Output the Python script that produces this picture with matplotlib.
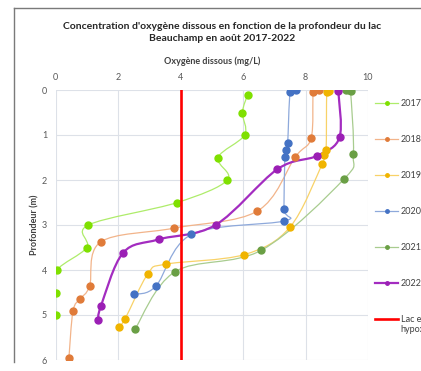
import numpy as np
import matplotlib
matplotlib.use("Agg")
from matplotlib import pyplot as plt
from matplotlib.path import Path
from matplotlib.patches import PathPatch
from matplotlib.lines import Line2D

plt.rcParams['font.family'] = ['Lato', 'DejaVu Sans']

# dissolved oxygen (mg/L) vs depth (m)
years = ["2017", "2018", "2019", "2020", "2021", "2022"]
depth_2017 = [0.1, 0.5, 1.0, 1.5, 2.0, 2.5, 3.0, 3.5, 4.0, 4.5, 5.0]
oxy_2017 = [6.15, 5.98, 6.05, 5.2, 5.5, 3.9, 1.05, 1.0, 0.05, 0.0, 0.0]
depth_2018 = [0.0, 0.05, 1.07, 1.49, 2.69, 3.07, 3.38, 4.36, 4.64, 4.91, 5.95]
oxy_2018 = [8.43, 8.25, 8.18, 7.67, 6.46, 3.79, 1.44, 1.09, 0.79, 0.56, 0.43]
depth_2019 = [0.02, 0.05, 1.33, 1.44, 1.65, 3.05, 3.66, 3.87, 4.08, 5.08, 5.27]
oxy_2019 = [8.74, 8.68, 8.66, 8.59, 8.53, 7.5, 6.03, 3.53, 2.96, 2.23, 2.02]
depth_2020 = [0.0, 0.04, 1.18, 1.33, 1.49, 2.64, 2.91, 3.21, 4.36, 4.54]
oxy_2020 = [7.69, 7.51, 7.43, 7.39, 7.34, 7.31, 7.32, 4.35, 3.21, 2.52]
depth_2021 = [0.0, 0.01, 0.02, 1.42, 1.98, 3.56, 4.04, 5.32]
oxy_2021 = [9.3, 9.38, 9.44, 9.53, 9.23, 6.59, 3.82, 2.54]
depth_2022 = [0.02, 1.05, 1.46, 1.76, 3.0, 3.32, 3.62, 4.81, 5.11]
oxy_2022 = [9.05, 9.09, 8.38, 7.1, 5.12, 3.3, 2.16, 1.45, 1.37]
hypoxia_limit = 4.0

series = [
    (oxy_2017, depth_2017, '#7FE000', '#AEEC6A', 0.9),
    (oxy_2018, depth_2018, '#E07B39', '#F2B48A', 0.9),
    (oxy_2019, depth_2019, '#F0B400', '#F8D268', 0.9),
    (oxy_2020, depth_2020, '#4472C4', '#8EA9DB', 0.9),
    (oxy_2021, depth_2021, '#6A9F45', '#A8CC8F', 0.9),
    (oxy_2022, depth_2022, '#9B1FB5', '#A32CC0', 1.6),
]


def smooth_path(x, y):
    # Excel-like smoothed line: Catmull-Rom segments as cubic beziers
    p = np.column_stack([x, y]).astype(float)
    n = len(p)
    verts = [p[0]]
    codes = [Path.MOVETO]
    for i in range(n - 1):
        p0 = p[i - 1] if i > 0 else p[i]
        p3 = p[i + 2] if i + 2 < n else p[i + 1]
        c1 = p[i] + (p[i + 1] - p0) / 6.0
        c2 = p[i + 1] - (p3 - p[i]) / 6.0
        verts += [c1, c2, p[i + 1]]
        codes += [Path.CURVE4] * 3
    return Path(verts, codes)


fig = plt.figure(figsize=(4.21, 3.71), dpi=100)
W, H = 421.0, 371.0
ax = fig.add_axes([55.5 / W, 1 - 360 / H, (368 - 55.5) / W, (360 - 90) / H])

for x, y, mc, lc, lw in series:
    ax.add_patch(PathPatch(smooth_path(x, y), facecolor='none', edgecolor=lc, lw=lw, zorder=3))
    ax.plot(x, y, ls='none', marker='o', ms=5, color=mc, zorder=4)

ax.plot([hypoxia_limit, hypoxia_limit], [0, 6], color='#FF0000', lw=1.9, zorder=5)

ax.set_xlim(0, 10)
ax.set_ylim(6, 0)
ax.set_xticks(range(0, 11, 2))
ax.set_yticks(range(0, 7))
ax.xaxis.tick_top()
ax.xaxis.set_label_position('top')
ax.grid(True, color='#DDE1E8', lw=0.8, zorder=0)
for s in ax.spines.values():
    s.set_visible(False)
ax.tick_params(length=0, labelsize=6.5, labelcolor='#595959', pad=6)
ax.set_xlabel('Oxygène dissous (mg/L)', fontsize=6.5, fontweight='bold', color='#404040', labelpad=6)
ax.set_ylabel('Profondeur (m)', fontsize=6.5, fontweight='bold', color='#404040', labelpad=2)

handles = []
for (x, y, mc, lc, lw), yr in zip(series, years):
    handles.append(Line2D([], [], color=lc, lw=lw, marker='o', ms=2.5, mfc=mc, mec=mc, label=yr))
handles.append(Line2D([], [], color='#FF0000', lw=1.9, label='Lac en'))
leg = ax.legend(handles=handles, loc='upper left', bbox_to_anchor=(375 / W, 1 - 99 / H),
                bbox_transform=fig.transFigure, frameon=False, fontsize=6.5,
                handlelength=2.6, handletextpad=0.25, labelspacing=3.0, borderaxespad=0, borderpad=0)
for t in leg.get_texts():
    t.set_color('#404040')
# second line of the wrapped legend label
fig.text(400 / W, 1 - 329 / H, 'hypoxie', fontsize=6.5, color='#404040', ha='left', va='center')

fig.text(222 / W, 1 - 32.5 / H,
         "Concentration d'oxygène dissous en fonction de la profondeur du lac\nBeauchamp en août 2017-2022",
         ha='center', va='center', fontsize=7.5, fontweight='bold', color='#262626', linespacing=1.35)

# chart frame (left and top edges visible in the crop)
fig.add_artist(Line2D([14 / W, 14 / W], [1 - 362 / H, 1 - 7.5 / H], color='#7A7A7A', lw=1.0))
fig.add_artist(Line2D([14 / W, 1.0], [1 - 7.5 / H, 1 - 7.5 / H], color='#7A7A7A', lw=1.0))

fig.savefig('out.png', dpi=100)
